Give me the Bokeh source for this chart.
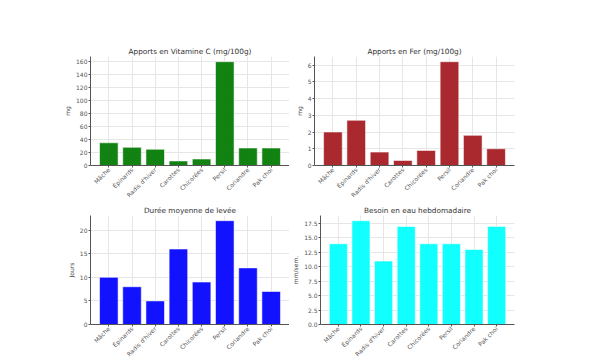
import math
from bokeh.plotting import figure
from bokeh.layouts import column, row
from bokeh.models import FactorRange, Range1d, FixedTicker, PrintfTickFormatter
from bokeh.embed import file_html
from bokeh.resources import INLINE

legumes = ["Mâche", "Épinards", "Radis d'hiver", "Carottes", "Chicorées", "Persil", "Coriandre", "Pak choi"]
vitamine_c = [35, 28, 25, 7, 10, 160, 27, 27]
fer = [2.0, 2.7, 0.8, 0.3, 0.9, 6.2, 1.8, 1.0]
levee = [10, 8, 5, 16, 9, 22, 12, 7]
eau = [14, 18, 11, 17, 14, 14, 13, 17]

ticks_vitc = [0, 20, 40, 60, 80, 100, 120, 140, 160]
ticks_fer = [0, 1, 2, 3, 4, 5, 6]
ticks_levee = [0, 5, 10, 15, 20]
ticks_eau = [0, 2.5, 5.0, 7.5, 10.0, 12.5, 15.0, 17.5]


def make(title, values, ticks, ylabel, color, width, height, bl, br, bt, fmt=None):
    p = figure(x_range=FactorRange(factors=legumes, range_padding=0.29, range_padding_units="absolute"),
               y_range=Range1d(0, max(values) * 1.05),
               width=width, height=height, output_backend="svg", toolbar_location=None,
               min_border_left=bl, min_border_right=br, min_border_top=bt, min_border_bottom=0,
               title=title)
    p.outline_line_color = None
    p.background_fill_color = "white"
    p.border_fill_color = "white"
    p.vbar(x=legumes, top=values, width=0.8, fill_color=color, fill_alpha=0.93,
           line_color="white", line_alpha=0.55, line_width=1)
    p.title.align = "center"
    p.title.text_font = "DejaVu Sans"
    p.title.text_font_size = "7.3px"
    p.title.text_font_style = "normal"
    p.title.text_color = "#333333"
    p.title.standoff = 1
    p.yaxis.ticker = FixedTicker(ticks=ticks)
    if fmt:
        p.yaxis.formatter = PrintfTickFormatter(format=fmt)
    p.yaxis.axis_label = ylabel
    for ax in (p.xaxis[0], p.yaxis[0]):
        ax.axis_line_color = "#555555"
        ax.axis_line_width = 1
        ax.major_tick_line_color = "#555555"
        ax.major_tick_out = 2
        ax.major_tick_in = 0
        ax.minor_tick_line_color = None
        ax.major_label_text_font = "DejaVu Sans"
        ax.major_label_text_font_size = "6px"
        ax.major_label_text_color = "#555555"
        ax.major_label_standoff = 1
        ax.axis_label_text_font = "DejaVu Sans"
        ax.axis_label_text_font_size = "6px"
        ax.axis_label_text_font_style = "normal"
        ax.axis_label_text_color = "#444444"
        ax.axis_label_standoff = 2
    p.xaxis.major_label_orientation = math.pi / 4
    p.xgrid.grid_line_color = "#e6e6e6"
    p.ygrid.grid_line_color = "#e6e6e6"
    p.xgrid.grid_line_width = 1
    p.ygrid.grid_line_width = 1
    return p


p1 = make("Apports en Vitamine C (mg/100g)", vitamine_c, ticks_vitc, "mg", "#007800", 289, 203, 90, 0, 56)
p2 = make("Apports en Fer (mg/100g)", fer, ticks_fer, "mg", "#a3191e", 311, 203, 25, 86, 56)
p3 = make("Durée moyenne de levée", levee, ticks_levee, "Jours", "#0000ff", 289, 159, 90, 0, 11)
p4 = make("Besoin en eau hebdomadaire", eau, ticks_eau, "mm/sem.", "#00ffff", 311, 159, 25, 86, 11, fmt="%.1f")

layout = column(row(p1, p2, spacing=0), row(p3, p4, spacing=0), spacing=0)

open("out.html", "w").write(file_html(layout, INLINE))
